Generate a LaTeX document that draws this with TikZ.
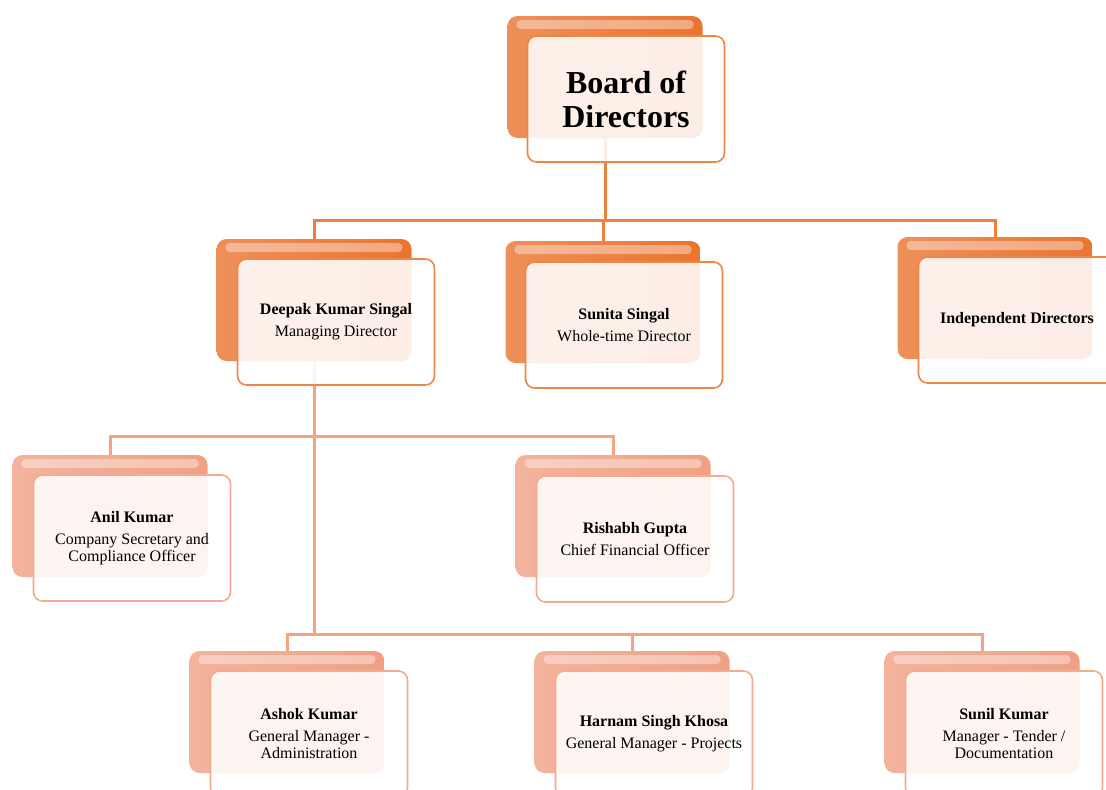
\documentclass[tikz,border=0pt]{standalone}
\usepackage{fontspec}
\setmainfont{Liberation Serif}
\usetikzlibrary{backgrounds}

\definecolor{topback}{HTML}{EA7430}
\definecolor{topedge}{HTML}{EE8746}
\definecolor{lowback}{HTML}{F0A084}
\definecolor{lowedge}{HTML}{F3AC90}
\definecolor{toplink}{HTML}{EE7F3D}
\definecolor{lowlink}{HTML}{F4A485}

\begin{document}
\begin{tikzpicture}[
  x=1pt, y=-1pt,
  back/.style={left color=#1!80!white, right color=#1, rounded corners=10pt,
    minimum width=195pt, minimum height=122pt,
    path picture={\fill[white, opacity=.38, rounded corners=4pt]
      ([shift={(9,4)}]path picture bounding box.north west) rectangle
      ([shift={(-9,13)}]path picture bounding box.north east);}},
  card/.style={draw=#1, line width=1.6pt, rounded corners=9pt, fill=white, fill opacity=.88,
    text opacity=1, minimum width=197pt, minimum height=126pt, align=center,
    font=\fontsize{16}{17}\selectfont},
  link/.style={draw=#1, line width=3pt}
]
  \useasboundingbox (0,0) rectangle (1106,790);
  \clip (0,0) rectangle (1106,790);

  % back boxes
  \node[back=topback] (board) at (605,77) {};
  \node[back=topback] (deepak) at (314,300) {};
  \node[back=topback] (sunita) at (603,302) {};
  \node[back=topback] (indep) at (995,298) {};
  \node[back=lowback] (anil) at (110,516) {};
  \node[back=lowback] (rishabh) at (613,516) {};
  \node[back=lowback] (ashok) at (287,712) {};
  \node[back=lowback] (harnam) at (632,712) {};
  \node[back=lowback] (sunil) at (982,712) {};

  % front cards
  \node[card=topedge, font=\fontsize{32}{34}\selectfont\bfseries] (boardF) at ([shift={(21,22)}]board.center) {Board of\\Directors};
  \node[card=topedge] (deepakF) at ([shift={(22,22)}]deepak.center) {\textbf{Deepak Kumar Singal}\\[5pt]Managing Director};
  \node[card=topedge] (sunitaF) at ([shift={(21,23)}]sunita.center) {\textbf{Sunita Singal}\\[5pt]Whole-time Director};
  \node[card=topedge] (indepF) at ([shift={(22,22)}]indep.center) {\textbf{Independent Directors}};
  \node[card=lowedge] (anilF) at ([shift={(22,22)}]anil.center) {\textbf{Anil Kumar}\\[5pt]Company Secretary and\\Compliance Officer};
  \node[card=lowedge] (rishabhF) at ([shift={(22,23)}]rishabh.center) {\textbf{Rishabh Gupta}\\[5pt]Chief Financial Officer};
  \node[card=lowedge] (ashokF) at ([shift={(22,22)}]ashok.center) {\textbf{Ashok Kumar}\\[5pt]General Manager -\\Administration};
  \node[card=lowedge] (harnamF) at ([shift={(22,22)}]harnam.center) {\textbf{Harnam Singh Khosa}\\[5pt]General Manager - Projects};
  \node[card=lowedge] (sunilF) at ([shift={(22,22)}]sunil.center) {\textbf{Sunil Kumar}\\[5pt]Manager - Tender /\\Documentation};

  % connectors
  \begin{scope}[on background layer]
    \coordinate (bus1) at (605,220);
    \coordinate (bus2) at (314,436);
    \coordinate (bus3) at (314,634);
    \draw[link=toplink] (board.south) -- (bus1);
    \draw[link=toplink] (deepak.north) |- (bus1) -| (indep.north);
    \draw[link=toplink] (sunita.north |- bus1) -- (sunita.north);
    \draw[link=lowlink] (deepak.south) -- (bus3);
    \draw[link=lowlink] (anil.north) |- (bus2) -| (rishabh.north);
    \draw[link=lowlink] (ashok.north) |- (bus3) -| (sunil.north);
    \draw[link=lowlink] (harnam.north |- bus3) -- (harnam.north);
  \end{scope}
\end{tikzpicture}
\end{document}
